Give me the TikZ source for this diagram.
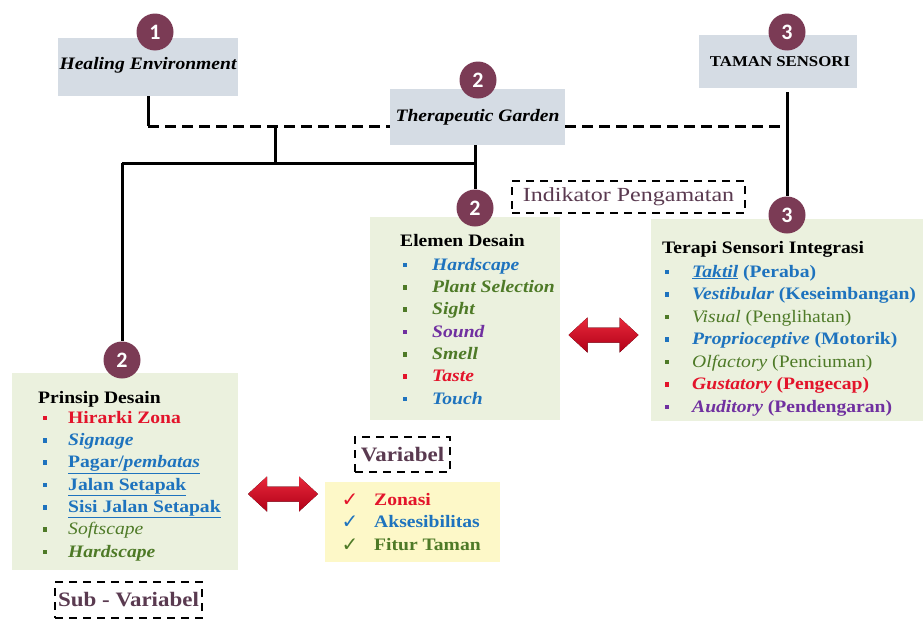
\documentclass[tikz,border=0pt]{standalone}
\usepackage{fontspec}
\setmainfont{Liberation Serif}[FakeStretch=1.12]
\setsansfont{Carlito}
\newfontfamily\symfont{DejaVu Sans}
\newfontfamily\indfont{Liberation Serif}[FakeStretch=1.2]
\usetikzlibrary{calc}
\definecolor{cblue}{HTML}{1E73BE}
\definecolor{cgreen}{HTML}{4E7A27}
\definecolor{cpurple}{HTML}{7030A0}
\definecolor{cred}{HTML}{E3142B}
\definecolor{maroon}{HTML}{7B3B55}
\definecolor{boxgray}{HTML}{D5DCE4}
\definecolor{boxgreen}{HTML}{EBF1DE}
\definecolor{boxyellow}{HTML}{FDF8C8}
\definecolor{lblcol}{HTML}{5A3A50}
\definecolor{arrtop}{HTML}{E8283A}
\definecolor{arrbot}{HTML}{B00018}
\newcommand\lrow[6]{%
  \fill[#5] (#2-2.4,#4-2.4) rectangle (#2+2.4,#4+2.4);
  \node[lst,anchor=base west,text=#5] (#1) at (#3,#4+5) {#6};}
\newcommand\crow[6]{%
  \node[text=#5,inner sep=0pt,font=\fontsize{20}{20}\selectfont\symfont] (#1c) at (#2,#4) {✓};
  \node[lst,anchor=base west,text=#5] (#1) at (#3,#4+5) {#6};}
\newcommand\redarrow[2]{%
  \fill[top color=arrtop,bottom color=arrbot] (#1-35,#2) -- (#1-16,#2-17.5) -- (#1-16,#2-7.5) -- (#1+16,#2-7.5) -- (#1+16,#2-17.5) -- (#1+35,#2) -- (#1+16,#2+17.5) -- (#1+16,#2+7.5) -- (#1-16,#2+7.5) -- (#1-16,#2+17.5) -- cycle;}
\begin{document}
\begin{tikzpicture}[x=1pt,y=-1pt,
  lst/.style={inner sep=0pt,font=\fontsize{17.5}{21}\selectfont\bfseries},
  graybox/.style={fill=boxgray,inner sep=0pt},
  greenbox/.style={fill=boxgreen,inner sep=0pt},
  yelbox/.style={fill=boxyellow,inner sep=0pt},
  dbox/.style={draw=black,line width=1.8pt,dash pattern=on 8pt off 6pt,inner sep=0pt,text=lblcol,font=\fontsize{20.5}{22}\selectfont\bfseries},
  num/.style={circle,fill=maroon,inner sep=0pt,minimum size=37pt,text=white,font=\fontsize{22}{22}\selectfont\sffamily\bfseries},
  solidc/.style={line width=3pt},
  dashc/.style={line width=3pt,dash pattern=on 11pt off 6pt},
  title/.style={inner sep=0pt,font=\fontsize{17.5}{21}\selectfont\bfseries\itshape}]
\useasboundingbox (0,0) rectangle (923,621);
\fill[white] (0,0) rectangle (923,621);
% top boxes
\node[graybox,minimum width=180pt,minimum height=58pt] (HE) at (148,67) {};
\node[title] (HEt) at (148,65) {Healing Environment};
\node[graybox,minimum width=175pt,minimum height=56pt] (TG) at (477.5,117) {};
\node[title] (TGt) at (477.5,117) {Therapeutic Garden};
\node[graybox,minimum width=158pt,minimum height=53pt] (TS) at (778,61.5) {};
\node[inner sep=0pt,font=\fontsize{15}{18}\selectfont\bfseries] (TSt) at (780,62) {TAMAN SENSORI};
% content boxes
\node[greenbox,minimum width=190pt,minimum height=203pt] (EB) at (465,318.5) {};
\node[greenbox,minimum width=273pt,minimum height=202pt] (TB) at (787.5,320) {};
\node[greenbox,minimum width=226pt,minimum height=197pt] (PB) at (125,471.5) {};
\node[yelbox,minimum width=175pt,minimum height=80pt] (YB) at (412.5,522) {};
% dashed label boxes
\node[dbox,minimum width=233pt,minimum height=32pt,font=\indfont\fontsize{20}{22}\selectfont] (IP) at (628.5,197) {Indikator Pengamatan};
\node[dbox,minimum width=95pt,minimum height=35pt] (VB) at (402.5,454.5) {Variabel};
\node[dbox,minimum width=147pt,minimum height=36pt] (SV) at (128.5,600) {Sub - Variabel};
% numbered circles
\node[num] (c1) at (155,32) {1};
\node[num] (c2) at (478,80) {2};
\node[num] (c3) at (787,32) {3};
\node[num] (cE) at (475,208) {2};
\node[num] (cT) at (787,215) {3};
\node[num] (cP) at (122,360) {2};
% connectors
\coordinate (j1) at (148,126);
\coordinate (j2) at (275,126);
\coordinate (j3) at (275,163);
\coordinate (j4) at (122,163);
\coordinate (j5) at (475,163);
\coordinate (j6) at (787,126);
\draw[solidc] (HE.south) -- (j1);
\draw[dashc] (j1) -- (TG.west |- j1);
\draw[dashc] (TG.east |- j6) -- (j6);
\draw[solidc] (j2) -- (j3);
\draw[solidc] (j4) -- (j5);
\draw[solidc] (j5 |- TG.south) -- (cE.north);
\draw[solidc] (j4) -- (cP.north);
\draw[solidc] ($(j6 |- TS.south)+(0,4)$) -- (cT.north);
% Elemen Desain
\node[lst,anchor=base west] (Et) at (400,246) {Elemen Desain};
\lrow{e1}{405}{432}{265}{cblue}{\itshape Hardscape}
\lrow{e2}{405}{432}{287.3}{cgreen}{\itshape Plant Selection}
\lrow{e3}{405}{432}{309.7}{cgreen}{\itshape Sight}
\lrow{e4}{405}{432}{332}{cpurple}{\itshape Sound}
\lrow{e5}{405}{432}{354.3}{cgreen}{\itshape Smell}
\lrow{e6}{405}{432}{376.7}{cred}{\itshape Taste}
\lrow{e7}{405}{432}{399}{cblue}{\itshape Touch}
% Terapi Sensori Integrasi
\node[lst,anchor=base west] (Tt) at (662,253) {Terapi Sensori Integrasi};
\lrow{t1}{667}{692}{272}{cblue}{\underline{\itshape Taktil} (Peraba)}
\lrow{t2}{667}{692}{294.5}{cblue}{{\itshape Vestibular} (Keseimbangan)}
\lrow{t3}{667}{692}{317}{cgreen}{\mdseries{\itshape Visual} (Penglihatan)}
\lrow{t4}{667}{692}{339.5}{cblue}{{\itshape Proprioceptive} (Motorik)}
\lrow{t5}{667}{692}{362}{cgreen}{\mdseries{\itshape Olfactory} (Penciuman)}
\lrow{t6}{667}{692}{384.5}{cred}{{\itshape Gustatory} (Pengecap)}
\lrow{t7}{667}{692}{407}{cpurple}{{\itshape Auditory} (Pendengaran)}
% Prinsip Desain
\node[lst,anchor=base west] (Pt) at (38,403) {Prinsip Desain};
\lrow{p1}{45}{68}{418}{cred}{Hirarki Zona}
\lrow{p2}{45}{68}{440.3}{cblue}{\itshape Signage}
\lrow{p3}{45}{68}{462.6}{cblue}{\underline{Pagar/\textit{pembatas}}}
\lrow{p4}{45}{68}{485}{cblue}{\underline{Jalan Setapak}}
\lrow{p5}{45}{68}{507.3}{cblue}{\underline{Sisi Jalan Setapak}}
\lrow{p6}{45}{68}{529.6}{cgreen}{\mdseries\itshape Softscape}
\lrow{p7}{45}{68}{552}{cgreen}{\itshape Hardscape}
% Variabel
\crow{v1}{350}{374}{500}{cred}{Zonasi}
\crow{v2}{350}{374}{522.5}{cblue}{Aksesibilitas}
\crow{v3}{350}{374}{545}{cgreen}{Fitur Taman}
% red double arrows
\redarrow{603.5}{335}
\redarrow{283}{494}
\end{tikzpicture}
\end{document}
